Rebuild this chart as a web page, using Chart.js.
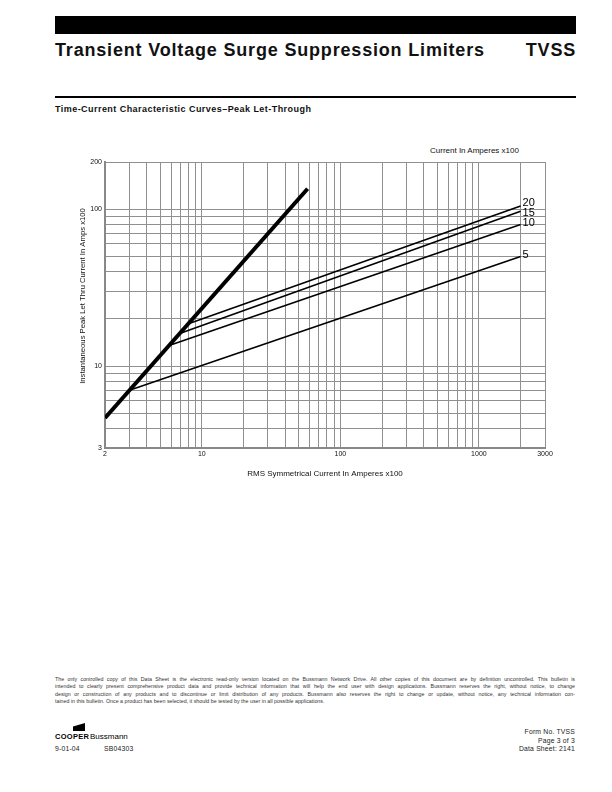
<!DOCTYPE html>
<html>
<head>
<meta charset="utf-8">
<script src="https://cdn.jsdelivr.net/npm/chart.js@4.4.1/dist/chart.umd.min.js"></script>
<style>
html,body{margin:0;padding:0;background:#fff;}
body{width:612px;height:792px;position:relative;overflow:hidden;font-family:"Liberation Sans",Arial,Helvetica,sans-serif;color:#000;}
.abs{position:absolute;white-space:nowrap;}
#bar{left:55px;top:16px;width:521px;height:18px;background:#000;}
#title{left:55px;top:39px;font-size:18px;font-weight:bold;letter-spacing:0.82px;line-height:22px;color:#111;}
#tvss{right:36px;top:39px;font-size:18px;font-weight:bold;letter-spacing:0.8px;line-height:22px;color:#111;}
#rule{left:55px;top:96px;width:521px;height:2px;background:#000;}
#sub{left:55px;top:104px;font-size:9px;font-weight:bold;line-height:10px;letter-spacing:0.45px;color:#111;}
#toplabel{left:430px;top:146px;font-size:8px;line-height:9px;color:#111;}
#chartbox{position:absolute;left:40px;top:140px;width:540px;height:350px;}
#legal{position:absolute;left:55px;top:676px;width:520px;font-size:5.3px;line-height:7.3px;color:#333;}
#legal div{text-align:justify;text-align-last:justify;white-space:nowrap;}
#legal div.last{text-align-last:left;}
#wedge{position:absolute;left:73px;top:723px;width:12px;height:8px;background:#000;clip-path:polygon(0 45%,100% 0,100% 100%,0 100%);}
#cooper{left:55px;top:732px;font-size:7.5px;font-weight:900;line-height:9px;letter-spacing:0.3px;}
#buss{left:90px;top:732px;font-size:8px;line-height:9px;}
.small{font-size:6.8px;line-height:8px;color:#222;letter-spacing:0.2px;}
</style>
</head>
<body>
<div id="bar" class="abs"></div>
<div id="title" class="abs">Transient Voltage Surge Suppression Limiters</div>
<div id="tvss" class="abs">TVSS</div>
<div id="rule" class="abs"></div>
<div id="sub" class="abs">Time-Current Characteristic Curves–Peak Let-Through</div>
<div id="toplabel" class="abs">Current In Amperes x100</div>
<div id="chartbox"><canvas id="c" width="540" height="350"></canvas></div>

<div id="legal">
<div>The only controlled copy of this Data Sheet is the electronic read-only version located on the Bussmann Network Drive. All other copies of this document are by definition uncontrolled. This bulletin is</div>
<div>intended to clearly present comprehensive product data and provide technical information that will help the end user with design applications. Bussmann reserves the right, without notice, to change</div>
<div>design or construction of any products and to discontinue or limit distribution of any products. Bussmann also reserves the right to change or update, without notice, any technical information con-</div>
<div class="last">tained in this bulletin. Once a product has been selected, it should be tested by the user in all possible applications.</div>
</div>

<div id="wedge"></div>
<div id="cooper" class="abs">COOPER</div>
<div id="buss" class="abs">Bussmann</div>
<div class="abs small" style="left:55px;top:745px;">9-01-04</div>
<div class="abs small" style="left:104px;top:745px;">SB04303</div>
<div class="abs small" style="right:37px;top:728px;text-align:right;">Form No. TVSS</div>
<div class="abs small" style="right:37px;top:737px;text-align:right;">Page 3 of 3</div>
<div class="abs small" style="right:37px;top:745px;text-align:right;">Data Sheet: 2141</div>

<script>
// ---------- DATA ----------
const xGridValues = [2,3,4,5,6,7,8,9,10,20,30,40,50,60,70,80,90,100,200,300,400,500,600,700,800,900,1000,2000,3000];
const xTickLabels = [2,10,100,1000,3000];
const yGridValues = [3,4,5,6,7,8,9,10,20,30,40,50,60,70,80,90,100,200];
const yTickLabels = [3,10,100,200];

// Heavy limit line (threshold curve)
const limitX = [2, 58];
const limitY = [4.66, 135];

// Fuse rating curves (Current In Amperes x100)
const curveNames  = ['5', '10', '15', '20'];
const curveStartX = [3, 5.8, 7, 8];
const curveStartY = [7.0, 13.5, 16.2, 18.6];
const curveEndX   = [2000, 2000, 2000, 2000];
const curveEndY   = [50, 80, 97, 105];

const xTitle = 'RMS Symmetrical Current In Amperes x100';
const yTitle = 'Instantaneous Peak Let Thru Current In Amps x100';

// ---------- CHART ----------
const FONT = '"Liberation Sans", Arial, Helvetica, sans-serif';
const labelNudge = {'20': -3, '15': 1.5, '10': -1, '5': -1};

const datasets = [{
  label: 'limit',
  data: limitX.map((x, i) => ({x, y: limitY[i]})),
  borderColor: '#000',
  borderWidth: 4,
  pointRadius: 0,
  fill: false
}];
curveNames.forEach((name, i) => {
  datasets.push({
    label: name,
    data: [{x: curveStartX[i], y: curveStartY[i]}, {x: curveEndX[i], y: curveEndY[i]}],
    borderColor: '#000',
    borderWidth: 1.6,
    pointRadius: 0,
    fill: false
  });
});

const annot = {
  id: 'annot',
  afterDatasetsDraw(chart) {
    const ctx = chart.ctx;
    ctx.save();
    ctx.fillStyle = '#000';
    ctx.font = '11px ' + FONT;
    ctx.textAlign = 'left';
    ctx.textBaseline = 'middle';
    chart.data.datasets.forEach((ds, di) => {
      if (di === 0) return;
      const meta = chart.getDatasetMeta(di);
      const p = meta.data[meta.data.length - 1];
      ctx.fillText(ds.label, p.x + 2, p.y + (labelNudge[ds.label] || 0));
    });
    // y axis title
    const a = chart.chartArea;
    ctx.font = '7.7px ' + FONT;
    ctx.fillStyle = '#111';
    ctx.textAlign = 'center';
    ctx.translate(a.left - 22, (a.top + a.bottom) / 2 - 9);
    ctx.rotate(-Math.PI / 2);
    ctx.fillText(yTitle, 0, 0);
    ctx.restore();
  }
};

new Chart(document.getElementById('c'), {
  type: 'line',
  data: {datasets},
  options: {
    responsive: false,
    animation: false,
    devicePixelRatio: 1,
    layout: {padding: {top: 22, right: 35, left: 0, bottom: 0}},
    plugins: {legend: {display: false}, tooltip: {enabled: false}},
    scales: {
      x: {
        type: 'logarithmic',
        min: 2, max: 3000,
        afterBuildTicks: s => { s.ticks = xGridValues.map(v => ({value: v})); },
        afterFit: s => { s.height = 42; },
        ticks: {
          autoSkip: false, maxRotation: 0, padding: 2,
          color: '#111', font: {size: 7, family: FONT},
          callback: v => xTickLabels.includes(v) ? String(v) : ''
        },
        grid: {color: '#909090', lineWidth: 1, drawTicks: false},
        border: {display: true, color: '#888', width: 2},
        title: {display: true, text: xTitle, color: '#111', font: {size: 8, family: FONT}, padding: {top: 0, bottom: 11}}
      },
      y: {
        type: 'logarithmic',
        min: 3, max: 200,
        afterBuildTicks: s => { s.ticks = yGridValues.map(v => ({value: v})); },
        afterFit: s => { s.width = 65; },
        ticks: {
          autoSkip: false, padding: 3,
          color: '#111', font: {size: 7, family: FONT},
          callback: v => yTickLabels.includes(v) ? String(v) : ''
        },
        grid: {color: '#909090', lineWidth: 1, drawTicks: false},
        border: {display: true, color: '#888', width: 2}
      }
    }
  },
  plugins: [annot]
});
</script>
</body>
</html>
